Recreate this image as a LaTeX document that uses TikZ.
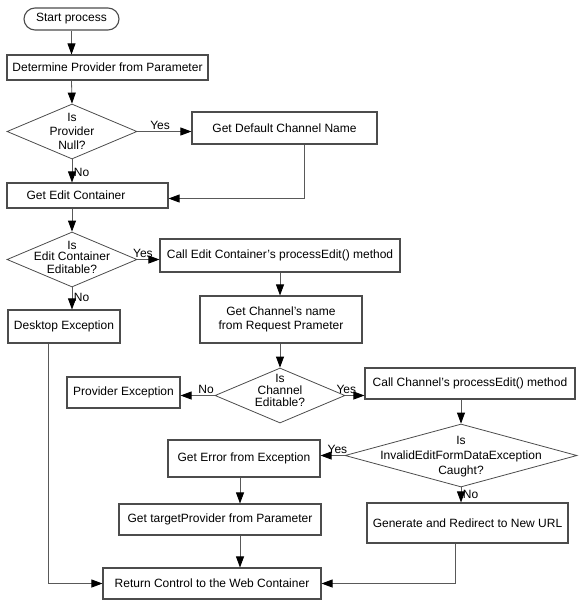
\documentclass[tikz,border=0pt]{standalone}
\usepackage{fontspec}
\setmainfont{Liberation Sans}
\usetikzlibrary{shapes.geometric,arrows.meta,calc}
\begin{document}
\begin{tikzpicture}[x=1pt,y=-1pt,
  every node/.style={font=\fontsize{12}{14}\selectfont},
  box/.style={draw=black!70,line width=1.1pt,rectangle,inner sep=0pt,align=center},
  dia/.style={draw=black!70,line width=0.8pt,diamond,inner sep=0pt},
  dtxt/.style={align=center,inner sep=0pt},
  arr/.style={draw=black!65,line width=0.8pt,-{Triangle[length=11pt,width=8pt,black]}},
  lbl/.style={inner sep=1.5pt}]
\useasboundingbox (0,0) rectangle (584,608);

\node[box,rounded corners=11pt,minimum width=95pt,minimum height=22pt] (start) at (71.5,19) {Start process};
\node[box,minimum width=201pt,minimum height=25pt] (det) at (107.5,67.5) {Determine Provider from Parameter};
\node[dia,minimum width=130pt,minimum height=55pt,label={[dtxt]center:{Is\\Provider\\Null?}}] (d1) at (72,131.5) {};
\node[box,minimum width=185pt,minimum height=32pt] (gdc) at (284.5,128) {Get Default Channel Name};
\node[box,minimum width=161pt,minimum height=25pt] (gec) at (87.5,195.5) {Get Edit Container\hspace*{23pt}};
\node[dia,minimum width=130pt,minimum height=55pt,label={[dtxt,yshift=2pt]center:{Is\\[-2.5pt]Edit Container\\[-1pt]Editable?}}] (d2) at (72,259.5) {};
\node[box,minimum width=240pt,minimum height=33pt] (cec) at (280,255.5) {Call Edit Container’s processEdit() method};
\node[box,minimum width=112pt,minimum height=33pt] (desk) at (64,326.5) {Desktop Exception};
\node[box,minimum width=162pt,minimum height=47pt] (gcn) at (281,319.5) {Get Channel’s name\\from Request Prameter};
\node[dia,minimum width=130pt,minimum height=55pt,label={[dtxt,yshift=5pt]center:{Is\\[-2pt]Channel\\[-2pt]Editable?}}] (d3) at (280,395.5) {};
\node[box,minimum width=113pt,minimum height=31pt] (pe) at (123.5,392.5) {Provider Exception};
\node[box,minimum width=210pt,minimum height=31pt] (cce) at (470,383.5) {Call Channel’s processEdit() method};
\node[dia,minimum width=232pt,minimum height=63pt,label={[dtxt,yshift=-1pt]center:{Is\\[1pt]InvalidEditFormDataException\\[1pt]Caught?}}] (d4) at (461,455.5) {};
\node[box,minimum width=152pt,minimum height=37pt] (ge) at (244,458.5) {Get Error from Exception};
\node[box,minimum width=201pt,minimum height=40pt] (gen) at (467.5,523) {Generate and Redirect to New URL};
\node[box,minimum width=202pt,minimum height=31pt] (gtp) at (220,519.5) {Get targetProvider from Parameter};
\node[box,minimum width=218pt,minimum height=31pt] (ret) at (212,583.5) {Return Control to the Web Container};

\draw[arr] (start.south) -- (start.south |- det.north);
\draw[arr] (start.south |- det.south) -- (d1.north);
\draw[arr] (d1.east) -- node[lbl,above,pos=0.42]{Yes} (d1.east -| gdc.west);
\draw[arr] (d1.south) -- node[lbl,right,pos=0.55]{No} (d1.south |- gec.north);
\draw[arr] ([xshift=20pt]gdc.south) |- ([yshift=-3pt]gec.east);
\draw[arr] (d1.south |- gec.south) -- (d2.north);
\draw[arr] (d2.east) -- node[lbl,above,pos=0.25]{Yes} (d2.east -| cec.west);
\draw[arr] (d2.south) -- node[lbl,right,pos=0.45]{No} (d2.south |- desk.north);
\draw[arr] (cec.south) -- (cec.south |- gcn.north);
\draw[arr] (d3.north |- gcn.south) -- (d3.north);
\draw[arr] (d3.west) -- node[lbl,above,pos=0.25]{No} (d3.west -| pe.east);
\draw[arr] (d3.east) -- node[lbl,above,pos=0.05]{Yes} (d3.east -| cce.west);
\draw[arr] (d4.north |- cce.south) -- (d4.north);
\draw[arr] (d4.west) -- node[lbl,above,pos=0.3]{Yes} (d4.west -| ge.east);
\draw[arr] (d4.south) -- node[lbl,right,pos=0.45]{No} (d4.south |- gen.north);
\draw[arr] ([xshift=-4pt]ge.south) -- ([xshift=-4pt]ge.south |- gtp.north);
\draw[arr] ([xshift=-4pt]ge.south |- gtp.south) -- ([xshift=-4pt]ge.south |- ret.north);
\draw[arr] ([xshift=-12pt]gen.south) |- (ret.east);
\draw[arr] ([xshift=-16pt]desk.south) |- (ret.west);
\end{tikzpicture}
\end{document}
